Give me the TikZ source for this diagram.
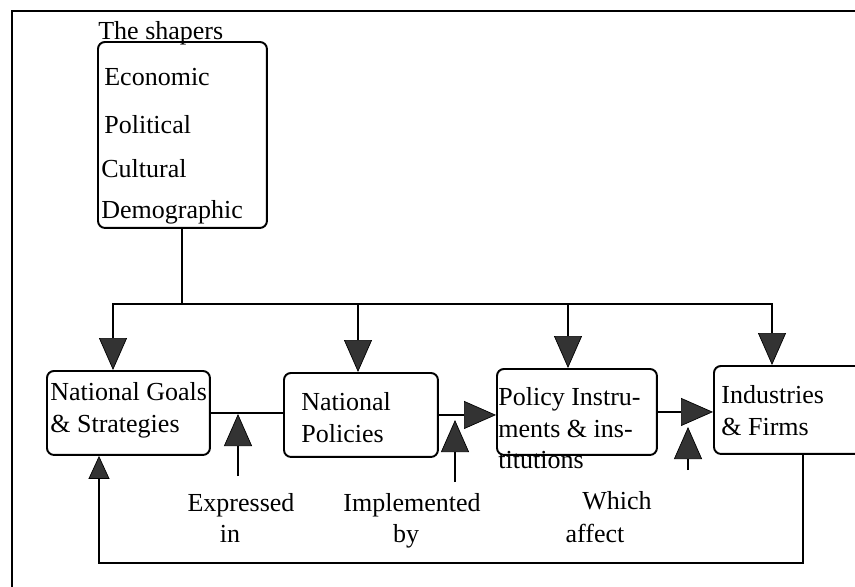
\documentclass[tikz,border=0pt]{standalone}
\usepackage{fontspec}
\setmainfont{Liberation Serif}
\usetikzlibrary{positioning, arrows.meta, calc}

\begin{document}
\begin{tikzpicture}[
  x=0.02cm, y=-0.02cm,
  txt/.style={font=\fontsize{14.8}{18}\selectfont, inner sep=0pt, anchor=base west},
  lbl/.style={txt, anchor=base},
  box/.style={draw, line width=1.1pt, rounded corners=4pt, inner sep=0pt,
    anchor=north west},
  line/.style={line width=1.1pt, line cap=rect},
  big/.style={line width=1.1pt, -{Triangle[width=0.56cm, length=0.64cm,
    line width=0.4pt, fill=black!80]}},
  back/.style={line width=0.6pt, -{Triangle[width=0.42cm, length=0.46cm,
    line width=0.4pt, fill=black!80]}},
]
  \useasboundingbox (0,0) rectangle (855,586);
  \clip (0,0) rectangle (855,586);

  % outer frame
  \draw[line width=1pt] (12,600) -- (12,11) -- (870,11);

  % the shapers
  \node[box, minimum width=3.38cm, minimum height=3.72cm] (shapers) at (97,41) {};
  \node[txt] (title) at (98,39) {The shapers};
  \foreach \w/\x/\y [count=\i] in {Economic/104/85, Political/104/133,
      Cultural/101/177, Demographic/101/218}
    \node[txt] (f\i) at (\x,\y) {\w};

  % the four boxes
  \node[box, minimum width=3.26cm, minimum height=1.68cm] (goals) at (46,370) {};
  \node[box, minimum width=3.08cm, minimum height=1.68cm] (pol) at (283,372) {};
  \node[box, minimum width=3.2cm, minimum height=1.72cm] (inst) at (496,368) {};
  \node[box, minimum width=3.6cm, minimum height=1.76cm] (firms) at (713,365) {};

  \foreach \t/\x/\y [count=\i] in {National Goals/50/400, \& Strategies/50/432,
      National/301/410, Policies/301/442, Policy Instru-/498/405,
      ments \& ins-/498/437, titutions/498/468, Industries/721/403,
      \& Firms/721/435}
    \node[txt] (b\i) at (\x,\y) {\t};

  % from the shapers down to every box
  \draw[line] (shapers.south) -- (shapers.south |- 0,304) coordinate (hub);
  \coordinate (busw) at (113,304);
  \coordinate (buse) at (772,304);
  \draw[line] (busw) -- (buse);
  \foreach \b/\x in {goals/113, pol/358, inst/568, firms/772}
    \draw[big] (\x,304) -- (\b.north -| \x,0);

  % chain
  \draw[line] (goals.east) -- (goals.east -| pol.west);
  \draw[big] (pol.east) -- (pol.east -| inst.west);
  \draw[big] (inst.east) -- (inst.east -| firms.west);

  % small up arrows
  \foreach \x/\a/\b [count=\i] in {238/476/414, 455/482/420, 688/470/427}{
    \coordinate (u\i) at (\x,\a);
    \coordinate (v\i) at (\x,\b);
    \draw[big] (u\i) -- (v\i);}

  \node[lbl] (l1) at (241,511) {Expressed};
  \node[lbl] (l2) at (230,542) {in};
  \node[lbl] (l3) at (412,511) {Implemented};
  \node[lbl] (l4) at (406,542) {by};
  \node[lbl] (l5) at (617,509) {Which};
  \node[lbl] (l6) at (595,542) {affect};

  % feedback loop
  \draw[back] (firms.south -| 803,0) -- (803,563) -| (goals.south -| 99,0);
\end{tikzpicture}
\end{document}
